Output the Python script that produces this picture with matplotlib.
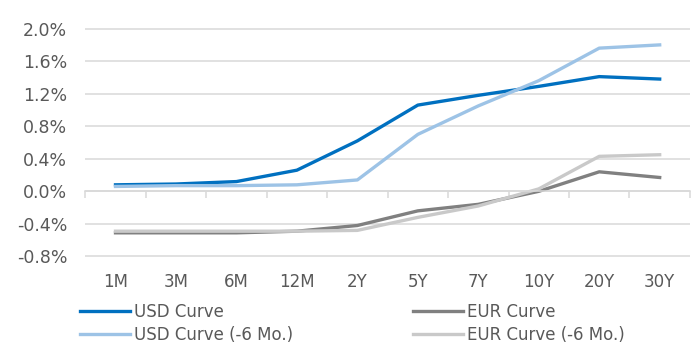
import matplotlib.pyplot as plt
from matplotlib.ticker import FuncFormatter, FixedLocator

# tenors and curve values (in %)
tenores = ['1M', '3M', '6M', '12M', '2Y', '5Y', '7Y', '10Y', '20Y', '30Y']
usd = [0.08, 0.09, 0.12, 0.26, 0.62, 1.06, 1.18, 1.29, 1.41, 1.38]
usd_6m = [0.06, 0.07, 0.07, 0.08, 0.14, 0.70, 1.05, 1.36, 1.76, 1.80]
eur = [-0.51, -0.51, -0.51, -0.49, -0.42, -0.24, -0.16, 0.00, 0.24, 0.17]
eur_6m = [-0.49, -0.49, -0.49, -0.49, -0.48, -0.32, -0.18, 0.03, 0.43, 0.45]

gris_txt = '#595959'

fig = plt.figure(figsize=(6.99, 3.43), dpi=100)
ax = fig.add_axes([0.122, 0.251, 0.865, 0.667])

x = list(range(len(tenores)))
l1, = ax.plot(x, usd, color='#0070C0', lw=2.4, label='USD Curve')
l2, = ax.plot(x, usd_6m, color='#9DC3E6', lw=2.4, label='USD Curve (-6 Mo.)')
l3, = ax.plot(x, eur, color='#808080', lw=2.4, label='EUR Curve')
l4, = ax.plot(x, eur_6m, color='#C9C9C9', lw=2.4, label='EUR Curve (-6 Mo.)')

ax.set_ylim(-0.806, 2.006)
ax.set_xlim(-0.5, len(tenores) - 0.5)
ax.set_yticks([-0.8, -0.4, 0.0, 0.4, 0.8, 1.2, 1.6, 2.0])
ax.yaxis.set_major_formatter(FuncFormatter(lambda v, p: '%.1f%%' % v))
ax.grid(axis='y', color='#D9D9D9', lw=1.1)
ax.set_axisbelow(True)

for s in ['top', 'right', 'left']:
    ax.spines[s].set_visible(False)
ax.spines['bottom'].set_position(('data', 0))
ax.spines['bottom'].set_color('#D9D9D9')
ax.spines['bottom'].set_linewidth(1.1)

ax.set_xticks(x)
ax.set_xticklabels(tenores)
ax.xaxis.set_minor_locator(FixedLocator([i - 0.5 for i in range(len(tenores) + 1)]))
ax.tick_params(axis='x', which='major', length=0, pad=59, labelsize=12, labelcolor=gris_txt)
ax.tick_params(axis='x', which='minor', length=5, color='#D9D9D9', width=1.1)
ax.tick_params(axis='y', length=0, labelsize=12.5, labelcolor=gris_txt, pad=13)

fig.legend(handles=[l1, l2, l3, l4], ncol=2, loc='upper left',
           bbox_to_anchor=(0.103, 0.141), frameon=False, fontsize=12,
           labelcolor=gris_txt, handlelength=3.0, handletextpad=0.24,
           columnspacing=7.2, labelspacing=0.32, borderpad=0)

fig.savefig('out.png', dpi=100)
